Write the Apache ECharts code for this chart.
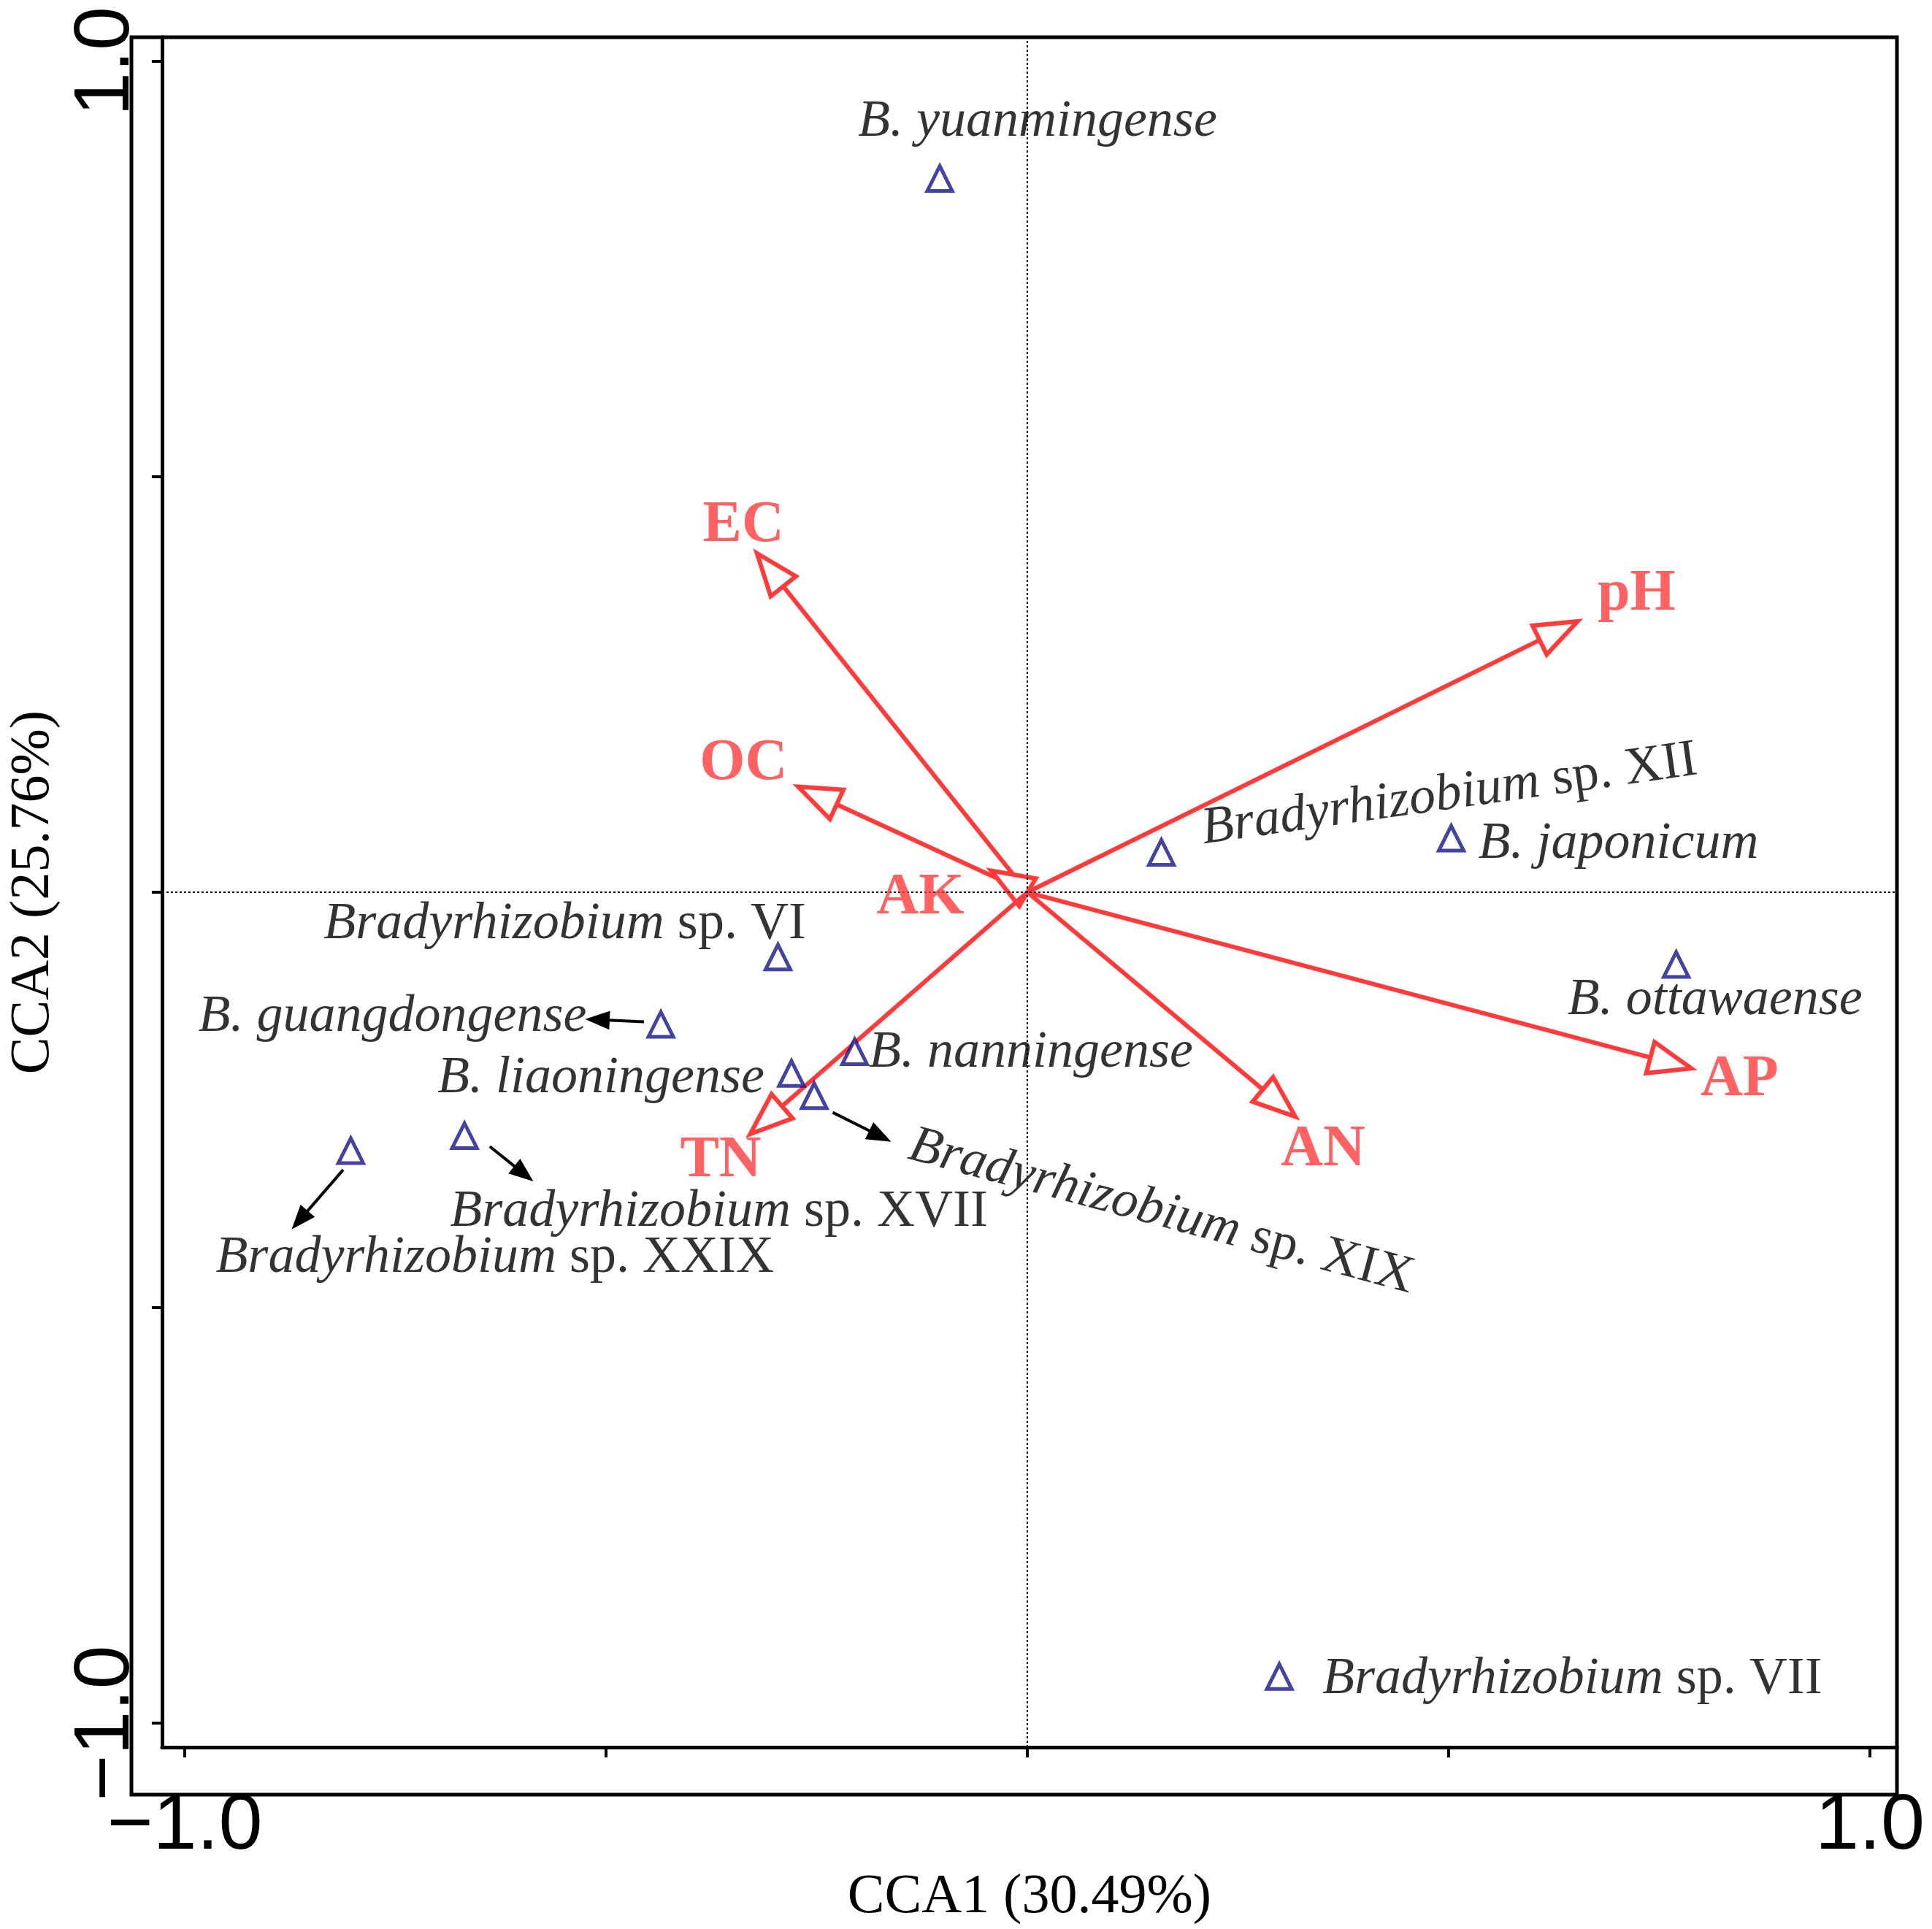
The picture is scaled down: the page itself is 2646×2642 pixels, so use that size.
<!DOCTYPE html><html><head><meta charset="utf-8">
<script src="https://cdn.jsdelivr.net/npm/echarts@6/dist/echarts.min.js"></script>
<style>html,body{margin:0;background:#fff}#c{width:2646px;height:2642px}</style></head><body><div id="c"></div>
<script>
// species sites
const siteNames=["B. yuanmingense","Bradyrhizobium sp. XII","B. japonicum","B. ottawaense","Bradyrhizobium sp. VI","B. guangdongense","B. nanningense","B. liaoningense","Bradyrhizobium sp. XIX","Bradyrhizobium sp. XVII","Bradyrhizobium sp. XXIX","Bradyrhizobium sp. VII"];
const siteX=[-0.104,0.159,0.503,0.770,-0.296,-0.435,-0.205,-0.280,-0.253,-0.668,-0.803,0.299];
const siteY=[0.859,0.048,0.065,-0.087,-0.078,-0.159,-0.192,-0.218,-0.245,-0.293,-0.311,-0.944];
// species label anchors
const labelX=[0.012,0.501,0.535,0.816,-0.549,-0.523,-0.188,-0.312,0.159,-0.366,-0.632,0.350];
const labelY=[0.927,0.117,0.058,-0.130,-0.039,-0.150,-0.193,-0.224,-0.385,-0.385,-0.440,-0.947];
const labelAlign=["center","center","left","center","center","right","left","right","center","center","center","left"];
const labelRot=[0,8,0,0,0,0,0,0,-15,0,0,0];
// leader arrows [x1,y1,x2,y2]
const leaders=[[-0.455,-0.156,-0.520,-0.153],[-0.638,-0.306,-0.590,-0.345],[-0.812,-0.334,-0.870,-0.402],[-0.231,-0.265,-0.166,-0.298]];
// environmental vectors
const envNames=["EC","pH","OC","AK","TN","AN","AP"];
const envX=[-0.321,0.653,-0.272,-0.043,-0.329,0.318,0.788];
const envY=[0.408,0.326,0.127,0.026,-0.291,-0.270,-0.212];
const envLabX=[-0.337,0.723,-0.337,-0.127,-0.364,0.351,0.845];
const envLabY=[0.441,0.358,0.154,-0.007,-0.324,-0.310,-0.226];

const ch=echarts.init(document.getElementById('c'));
const F='"Liberation Serif", "Times New Roman", serif';
const RED='#ff3b3b';
function rich(name){
  const m=name.match(/^(.*?)( sp\. .*)?$/);
  return m[2]?'{i|'+m[1]+'}{n|'+m[2]+'}':'{i|'+m[1]+'}';
}
function arrowItem(p0,p1,head,w,color,fill,lw){
  const dx=p1[0]-p0[0],dy=p1[1]-p0[1],L=Math.hypot(dx,dy),ux=dx/L,uy=dy/L;
  const bx=p1[0]-ux*head,by=p1[1]-uy*head;
  return {type:'group',children:[
    {type:'line',shape:{x1:p0[0],y1:p0[1],x2:bx,y2:by},style:{stroke:color,lineWidth:lw}},
    {type:'polygon',shape:{points:[[p1[0],p1[1]],[bx-uy*w,by+ux*w],[bx+uy*w,by-ux*w]]},style:{fill:fill,stroke:color,lineWidth:lw}}
  ]};
}
ch.setOption({
  animation:false,
  grid:{left:180,right:48,top:51,bottom:184},
  xAxis:{type:'value',min:-1.027,max:1.032,splitLine:{show:false},
    axisLine:{onZero:false,lineStyle:{color:'#000',width:5}},
    axisTick:{customValues:[-1,-0.5,0,0.5,1],length:14,lineStyle:{color:'#000',width:4}},
    axisLabel:{customValues:[-1,1],formatter:v=>v<0?'\u22121.0':'1.0',fontFamily:'Arial, "Liberation Sans"',fontSize:108,color:'#000',margin:55},
    name:'CCA1 (30.49%)',nameLocation:'middle',nameGap:75,nameTextStyle:{fontFamily:F,fontSize:76,color:'#000'}},
  yAxis:{type:'value',min:-1.029,max:1.029,splitLine:{show:false},
    axisLine:{onZero:false,lineStyle:{color:'#000',width:5}},
    axisTick:{customValues:[-1,-0.5,0,0.5,1],length:14,lineStyle:{color:'#000',width:4}},
    axisLabel:{customValues:[-1,1],formatter:v=>v<0?'\u22121.0':'1.0',rotate:90,fontFamily:'Arial, "Liberation Sans"',fontSize:108,color:'#000',margin:22},
    name:'CCA2 (25.76%)',nameLocation:'middle',nameGap:78,nameTextStyle:{fontFamily:F,fontSize:76,color:'#000'}},
  graphic:[{type:'rect',shape:{x:180,y:51,width:2646-228,height:2642-235},style:{fill:'none',stroke:'#000',lineWidth:5},z:-1}],
  series:[
    {type:'scatter',data:[[0,0]],symbolSize:0,silent:true,
      markLine:{silent:true,symbol:'none',label:{show:false},lineStyle:{color:'#000',type:[3,3],width:2},
        data:[{xAxis:0},{yAxis:0}]}},
    {type:'custom',renderItem:(p,api)=>{
      const o=api.coord([0,0]),t=api.coord([api.value(0),api.value(1)]);
      return arrowItem(o,t,58,22,RED,'#fff',6);
    },data:envX.map((x,i)=>[x,envY[i]]),z:3},
    {type:'custom',renderItem:(p,api)=>{
      const a=api.coord([api.value(0),api.value(1)]),b=api.coord([api.value(2),api.value(3)]);
      return arrowItem(a,b,26,10,'#000','#000',4);
    },data:leaders,z:3},
    {type:'scatter',data:siteX.map((x,i)=>[x,siteY[i]]),symbol:'triangle',symbolSize:34,
      itemStyle:{color:'#fff',borderColor:'#14148a',borderWidth:5},z:4},
    {type:'scatter',symbolSize:0,z:5,
      data:siteX.map((x,i)=>({value:[labelX[i],labelY[i]],label:{align:labelAlign[i],rotate:labelRot[i],formatter:rich(siteNames[i])}})),
      label:{show:true,position:'inside',verticalAlign:'middle',color:'#000',
        rich:{i:{fontFamily:F,fontStyle:'italic',fontSize:72,color:'#000'},n:{fontFamily:F,fontSize:72,color:'#000'}}}},
    {type:'scatter',symbolSize:0,z:5,
      data:envNames.map((n,i)=>({value:[envLabX[i],envLabY[i]],name:n})),
      label:{show:true,position:'inside',formatter:'{b}',fontFamily:F,fontWeight:'bold',fontSize:80,color:RED}}
  ]
});
</script></body></html>
